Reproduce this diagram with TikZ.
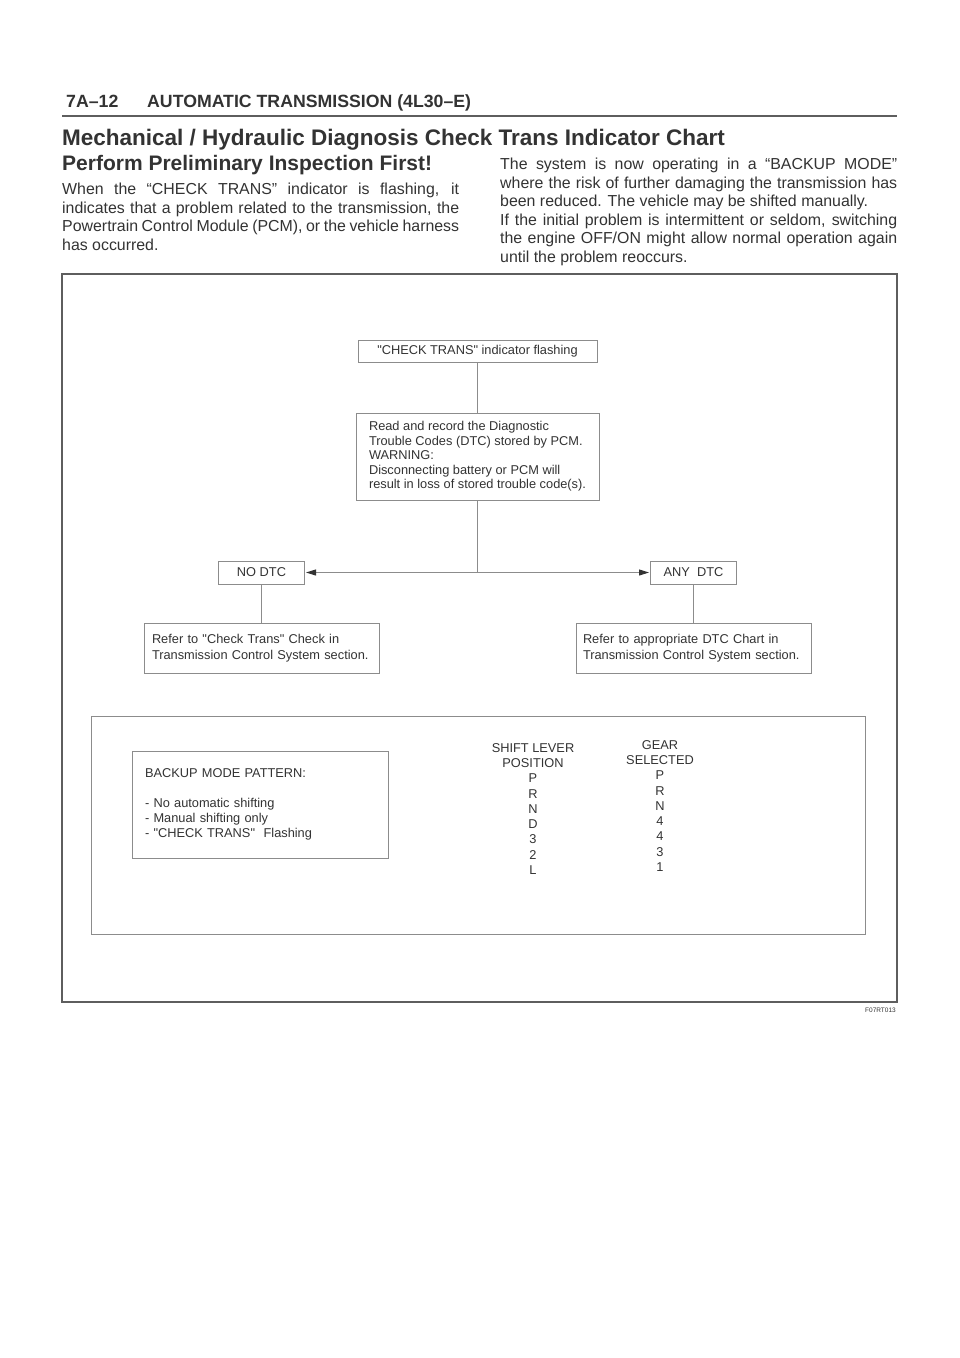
\documentclass[tikz,border=0pt]{standalone}
\usepackage{fontspec}
\setmainfont{Liberation Sans}
\usetikzlibrary{arrows.meta}

\definecolor{inkgray}{HTML}{333333}
\definecolor{linegray}{HTML}{8C8C8C}
\definecolor{framegray}{HTML}{5E5E5E}

\begin{document}
\begin{tikzpicture}[x=1pt, y=-1pt,
    chartbox/.style={draw=linegray, line width=1pt, inner ysep=0pt, text=inkgray,
        font=\fontsize{12.8}{14.5}\selectfont},
    flowline/.style={draw=linegray, line width=1pt},
    flowarrow/.style={flowline, -{Triangle[length=10pt, width=6pt, color=inkgray]}, shorten >=1pt},
    headtext/.style={anchor=base west, inner sep=0pt, text=inkgray},
    bodytext/.style={anchor=base west, inner sep=0pt, text width=397pt, align=justify,
        text=inkgray, font=\fontsize{15.9}{18.6}\selectfont},
    column/.style={inner sep=0pt, text=inkgray, font=\fontsize{12.8}{14}\selectfont}
]

    % Page size and white background
    \fill[white] (0,0) rectangle (960,1358);
    \useasboundingbox (0,0) rectangle (960,1358);

    % Running head
    \node[headtext, font=\bfseries\fontsize{17.7}{20}\selectfont] (pagenum) at (66,107) {7A–12};
    \node[headtext, font=\bfseries\fontsize{17.7}{20}\selectfont] (pagehead) at (147,107) {AUTOMATIC TRANSMISSION (4L30–E)};
    \draw[framegray, line width=2pt] (62,116) -- (897,116);

    % Titles
    \node[headtext, font=\bfseries\fontsize{22.5}{26}\selectfont] (title) at (62,145)
        {Mechanical / Hydraulic Diagnosis Check Trans Indicator Chart};
    \node[headtext, font=\bfseries\fontsize{21}{24}\selectfont] (subtitle) at (62,170)
        {Perform Preliminary Inspection First!};

    % Two columns of body text
    \node[bodytext] (leftpar) at (62,194.5) {%
        When the “CHECK TRANS” indicator is flashing, it\linebreak
        indicates that a problem related to the transmission, the\linebreak
        Powertrain Control Module (PCM), or the vehicle harness\linebreak
        has occurred.};
    \node[bodytext] (rightpar) at (500,169.5) {%
        The system is now operating in a “BACKUP MODE”\linebreak
        where the risk of further damaging the transmission has\linebreak
        been reduced. The vehicle may be shifted manually.\par
        If the initial problem is intermittent or seldom, switching\linebreak
        the engine OFF/ON might allow normal operation again\linebreak
        until the problem reoccurs.};

    % Outer frame of the figure
    \draw[framegray, line width=1.5pt] (62,274) rectangle (897,1002);

    % Flow chart boxes
    \node[chartbox, minimum width=239pt, minimum height=22pt] (flashing) at (477.5,351)
        {\textquotedbl CHECK TRANS\textquotedbl\ indicator flashing};
    \node[chartbox, inner xsep=12.5pt, minimum width=243pt, minimum height=87pt, align=left] (readdtc) at (477.5,456.5)
        {Read and record the Diagnostic\\Trouble Codes (DTC) stored by PCM.\\WARNING:\\
         Disconnecting battery or PCM will\\result in loss of stored trouble code(s).};
    \coordinate (split) at (477.5,572.5);
    \node[chartbox, minimum width=86pt, minimum height=23pt] (nodtc) at (261.5,572.5) {NO DTC};
    \node[chartbox, minimum width=86pt, minimum height=23pt] (anydtc) at (693.5,572.5) {ANY\ \ DTC};
    \node[chartbox, text width=219pt, inner xsep=8pt, minimum height=50pt, align=left,
        font=\fontsize{12.8}{16}\selectfont] (checkref) at (261.5,648)
        {Refer to \textquotedbl Check Trans\textquotedbl\ Check in\\Transmission Control System section.};
    \node[chartbox, text width=221pt, inner xsep=7pt, minimum height=50pt, align=left,
        font=\fontsize{12.8}{16}\selectfont] (dtcref) at (693.5,648)
        {Refer to appropriate DTC Chart in\\Transmission Control System section.};

    % Connectors
    \draw[flowline] (flashing) -- (readdtc);
    \draw[flowline] (readdtc) -- (split);
    \draw[flowarrow] (split) -- (nodtc);
    \draw[flowarrow] (split) -- (anydtc);
    \draw[flowline] (nodtc) -- (checkref);
    \draw[flowline] (anydtc) -- (dtcref);

    % Backup mode panel
    \draw[linegray, line width=1pt] (91,716) rectangle (865,934);
    \node[chartbox, text width=230pt, inner xsep=13pt, minimum height=107pt, align=left,
        font=\fontsize{12.8}{15}\selectfont] (backup) at (260,804.5)
        {BACKUP MODE PATTERN:\\[15pt]- No automatic shifting\\- Manual shifting only\\
         - \textquotedbl CHECK TRANS\textquotedbl\ \ Flashing};

    % Lever position and gear selected columns
    \foreach \lab [count=\i from 0] in {SHIFT LEVER, POSITION, P, R, N, D, 3, 2, L}
        \node[column] (lever\i) at (533, {748+15.25*\i}) {\lab};
    \foreach \lab [count=\i from 0] in {GEAR, SELECTED, P, R, N, 4, 4, 3, 1}
        \node[column] (gear\i) at (660, {745+15.25*\i}) {\lab};

    % Figure reference
    \node[anchor=base east, inner sep=0pt, text=inkgray, font=\fontsize{6.5}{7}\selectfont] (figref) at (896,1012) {F07RT013};

\end{tikzpicture}
\end{document}
